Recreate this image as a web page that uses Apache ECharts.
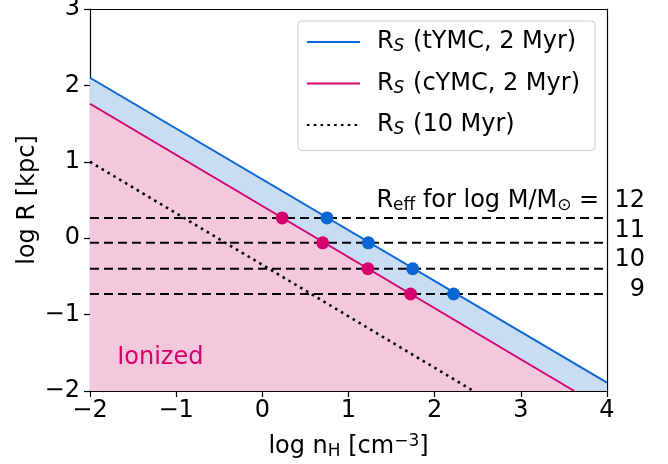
<!DOCTYPE html>
<html>
<head>
<meta charset="utf-8">
<script src="https://cdn.jsdelivr.net/npm/echarts@6/dist/echarts.min.js"></script>
<style>
  html, body { margin: 0; padding: 0; background: #fff; }
  #main { width: 668px; height: 464px; }
</style>
</head>
<body>
<div id="main"></div>
<script>
// lines (log nH, log R)
const tymcLine = [[-2, 2.1], [4, -1.89]];
const cymcLine = [[-2, 1.76], [3.62, -2]];
const oldLine = [[-2, 1.0], [2.45, -2]];
// R_eff levels for log M/Msun = 12, 11, 10, 9
const reffMass = ['12', '11', '10', '9'];
const reffLogR = [0.265, -0.06, -0.4, -0.73];
// crossing points
const tymcPts = [[0.75, 0.265], [1.23, -0.06], [1.745, -0.4], [2.22, -0.73]];
const cymcPts = [[0.23, 0.265], [0.7, -0.06], [1.225, -0.4], [1.72, -0.73]];
const xTicks = [-2, -1, 0, 1, 2, 3, 4];
const yTicks = [-2, -1, 0, 1, 2, 3];
// region annotation
const regionText = 'Ionized';
const regionPos = [-1.69, -1.56];

const BLUE = '#0a66d4';
const PINK = '#d4006e';
const FONT = 'DejaVu Sans';
const FS = 24;
const SFS = 17;
const minus = v => String(v).replace('-', '\u2212');

const chart = echarts.init(document.getElementById('main'), null, { renderer: 'canvas' });

const series = [
  {
    name: 'tymc',
    type: 'line',
    data: tymcLine,
    symbol: 'none',
    lineStyle: { color: BLUE, width: 2 },
    itemStyle: { color: BLUE },
    areaStyle: { color: '#c8dcf2', opacity: 1, origin: 'start' },
    z: 2
  },
  {
    name: 'cymc',
    type: 'line',
    data: cymcLine,
    symbol: 'none',
    lineStyle: { color: PINK, width: 2 },
    itemStyle: { color: PINK },
    areaStyle: { color: '#f3c8dd', opacity: 1, origin: 'start' },
    z: 3
  },
  {
    name: 'old',
    type: 'line',
    data: oldLine,
    symbol: 'none',
    lineStyle: { color: '#000', width: 2.6, type: [2.6, 4.2] },
    itemStyle: { color: '#000' },
    z: 4
  }
];

// label shifts above each dashed line
const labelDy = [-17, -12, -9, -4];

reffLogR.forEach((y, i) => {
  series.push({
    name: 'reff' + reffMass[i],
    type: 'line',
    data: [[-2, y], [4, y]],
    symbol: 'none',
    lineStyle: { color: '#000', width: 2, type: [9, 5] },
    z: 5,
    endLabel: {
      show: true,
      distance: 0,
      formatter: i === 0
        ? '{a|R}{s|eff}{a| for log M/M}{s|\u2299}{a| =  ' + reffMass[i] + '}'
        : reffMass[i],
      color: '#000',
      fontFamily: FONT,
      fontSize: FS,
      align: 'right',
      offset: [38, labelDy[i]],
      rich: {
        a: { fontSize: FS, fontFamily: FONT, color: '#000' },
        s: { fontSize: SFS, fontFamily: FONT, color: '#000', padding: [10, 0, 0, 0] }
      }
    }
  });
});

series.push({
  name: 'tymcPts',
  type: 'scatter',
  data: tymcPts,
  symbolSize: 13,
  itemStyle: { color: BLUE, opacity: 1 },
  z: 6
});
series.push({
  name: 'cymcPts',
  type: 'scatter',
  data: cymcPts,
  symbolSize: 13,
  itemStyle: { color: PINK, opacity: 1 },
  z: 6
});
series.push({
  name: 'ionized',
  type: 'scatter',
  data: [regionPos],
  symbolSize: 1,
  silent: true,
  itemStyle: { opacity: 0 },
  label: {
    show: true,
    position: 'right',
    distance: 0,
    formatter: regionText,
    color: PINK,
    opacity: 1,
    fontFamily: FONT,
    fontSize: FS
  },
  z: 6
});

const legendNames = {
  tymc: '{a|R}{s|S}{a| (tYMC, 2 Myr)}',
  cymc: '{a|R}{s|S}{a| (cYMC, 2 Myr)}',
  old: '{a|R}{s|S}{a| (10 Myr)}'
};

const axisLineStyle = { color: '#000', width: 1.2 };

const option = {
  animation: false,
  backgroundColor: '#fff',
  textStyle: { fontFamily: FONT },
  grid: { left: 90, right: 61, top: 9, bottom: 73, show: false, outerBoundsMode: 'none', containLabel: false },
  legend: {
    data: ['tymc', 'cymc', 'old'],
    orient: 'vertical',
    right: 73,
    top: 21,
    padding: [9, 15, 12, 8],
    itemGap: 16,
    itemWidth: 53,
    itemHeight: 24,
    backgroundColor: '#fff',
    borderColor: '#d0d0d0',
    borderWidth: 1,
    borderRadius: 4,
    itemStyle: { opacity: 0 },
    formatter: n => legendNames[n],
    textStyle: {
      fontFamily: FONT,
      fontSize: FS,
      color: '#000',
      padding: [0, 0, 0, 12],
      rich: {
        a: { fontSize: FS, fontFamily: FONT, color: '#000' },
        s: { fontSize: SFS, fontStyle: 'italic', fontFamily: FONT, color: '#000', padding: [10, 1, 0, 0] }
      }
    }
  },
  xAxis: [{
    type: 'value',
    min: -2,
    max: 4,
    interval: 1,
    name: 'log n{s|H} [cm{p|\u22123}]',
    nameLocation: 'middle',
    nameGap: 42,
    nameMoveOverlap: false,
    nameTextStyle: {
      fontFamily: FONT,
      fontSize: FS,
      color: '#000',
      rich: {
        s: { fontSize: SFS, fontFamily: FONT, color: '#000', padding: [10, 0, 0, 0] },
        p: { fontSize: SFS, fontFamily: FONT, color: '#000', padding: [0, 0, 10, 0] }
      }
    },
    axisLine: { show: true, onZero: false, lineStyle: axisLineStyle },
    axisTick: { show: true, length: 6, inside: false, lineStyle: axisLineStyle },
    axisLabel: { fontFamily: FONT, fontSize: FS, color: '#000', margin: 8, formatter: minus },
    splitLine: { show: false }
  }, {
    type: 'value', min: -2, max: 4, position: 'top',
    axisLine: { show: true, onZero: false, lineStyle: axisLineStyle },
    axisTick: { show: false }, axisLabel: { show: false }, splitLine: { show: false }
  }],
  yAxis: [{
    type: 'value',
    min: -2,
    max: 3,
    interval: 1,
    name: 'log R [kpc]',
    nameLocation: 'middle',
    nameGap: 50,
    nameMoveOverlap: false,
    nameTextStyle: { fontFamily: FONT, fontSize: FS, color: '#000' },
    axisLine: { show: true, onZero: false, lineStyle: axisLineStyle },
    axisTick: { show: true, length: 6, inside: false, lineStyle: axisLineStyle },
    axisLabel: { fontFamily: FONT, fontSize: FS, color: '#000', margin: 10, formatter: minus },
    splitLine: { show: false }
  }, {
    type: 'value', min: -2, max: 3, position: 'right',
    axisLine: { show: true, onZero: false, lineStyle: axisLineStyle },
    axisTick: { show: false }, axisLabel: { show: false }, splitLine: { show: false }
  }],
  series: series
};

chart.setOption(option);
</script>
</body>
</html>
